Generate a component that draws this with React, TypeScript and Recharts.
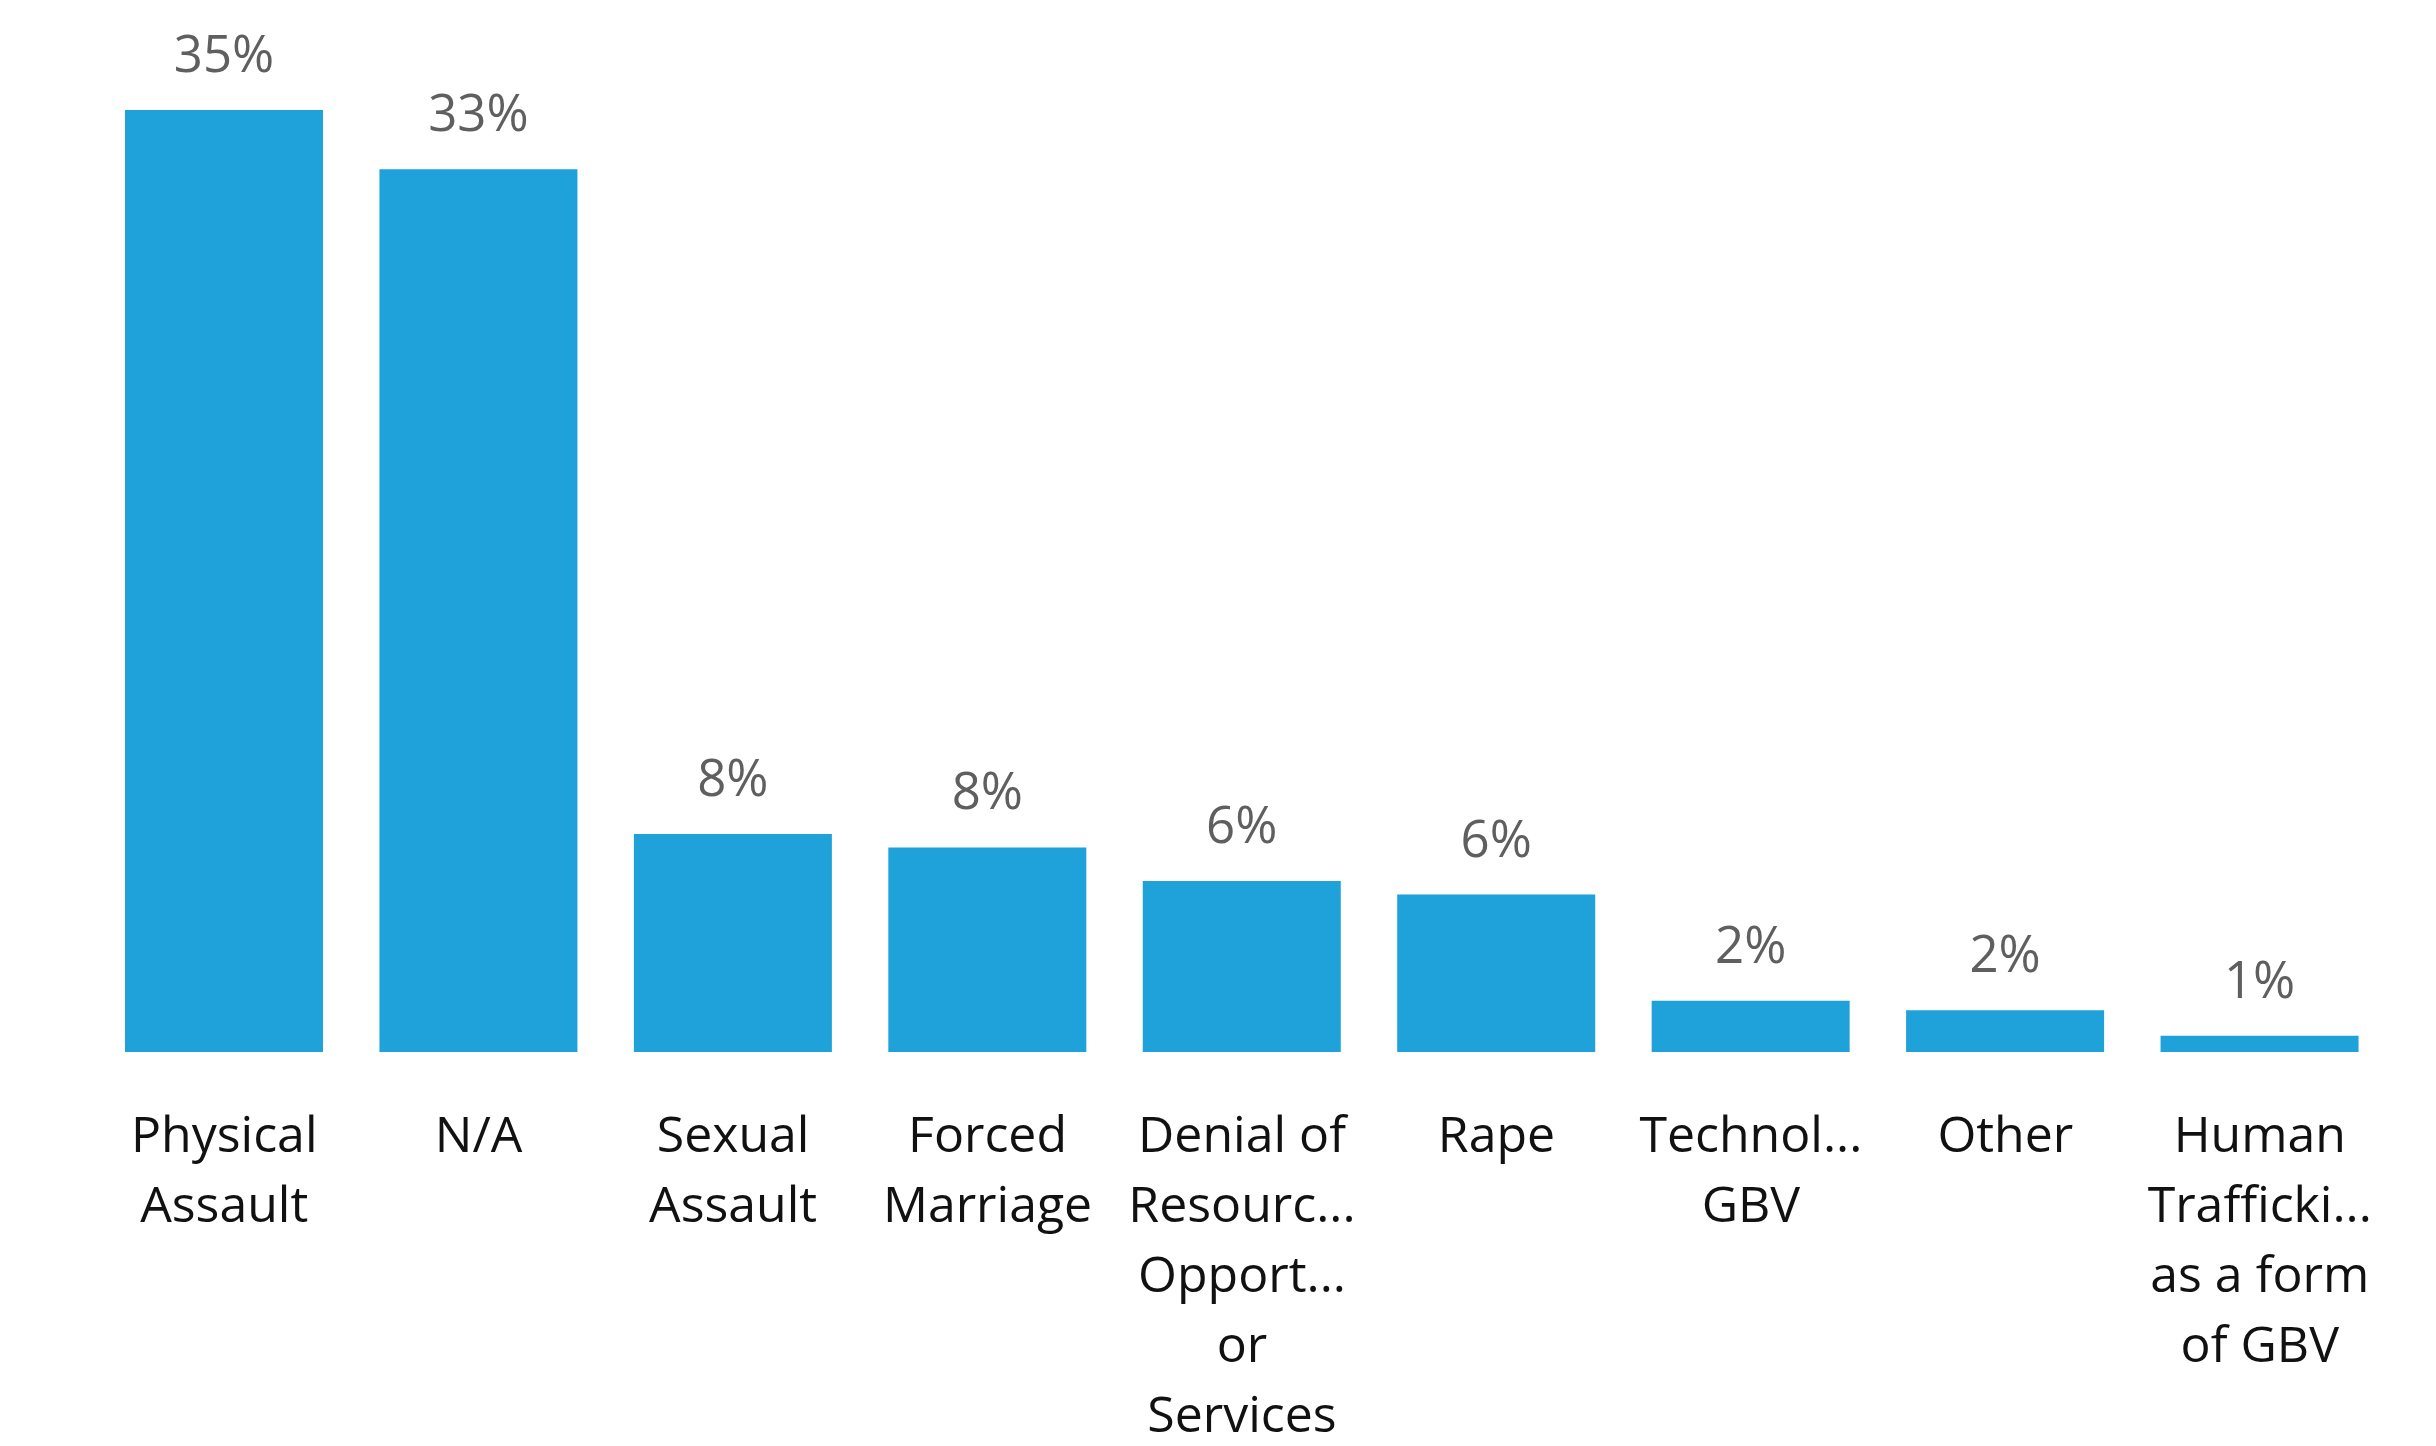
import React from 'react';
import { BarChart, Bar, XAxis, YAxis, LabelList } from 'recharts';

const categories = [
    'Physical Assault',
    'N/A',
    'Sexual Assault',
    'Forced Marriage',
    'Denial of Resources, Opportunities or Services',
    'Rape',
    'Technology-facilitated GBV',
    'Other',
    'Human Trafficking as a form of GBV',
];

// shares in percent
const shares = [35.0, 32.8, 8.1, 7.6, 6.35, 5.85, 1.9, 1.55, 0.6];

// tick labels as they are wrapped / cut in the picture
const tickLines = [
    ['Physical', 'Assault'],
    ['N/A'],
    ['Sexual', 'Assault'],
    ['Forced', 'Marriage'],
    ['Denial of', 'Resourc...', 'Opport...', 'or', 'Services'],
    ['Rape'],
    ['Technol...', 'GBV'],
    ['Other'],
    ['Human', 'Trafficki...', 'as a form', 'of GBV'],
];

const data = categories.map((name, i) => ({ name, value: shares[i], lines: tickLines[i] }));

const FONT = '"Segoe UI", "Open Sans", sans-serif';

const CategoryTick = (props: any) => {
    const { x, y, index } = props;
    const lines = tickLines[index] || [];
    return (
        <text x={x} y={y} textAnchor="middle" fill="#111" fontSize={50} fontFamily={FONT}>
            {lines.map((l, i) => (
                <tspan key={i} x={x} dy={i === 0 ? 100 : 70}>{l}</tspan>
            ))}
        </text>
    );
};

const App = () => {
    return (
        <div style={{ position: 'absolute', left: 0, top: 0, width: 2436, height: 1446, background: '#fff', fontFamily: FONT }}>
            <BarChart
                width={2436}
                height={1446}
                data={data}
                margin={{ top: 110, right: 49, left: 97, bottom: 0 }}
                barCategoryGap="11%"
            >
                <XAxis
                    dataKey="name"
                    height={394}
                    axisLine={false}
                    tickLine={false}
                    tickSize={0}
                    tickMargin={0}
                    interval={0}
                    tick={<CategoryTick />}
                />
                <YAxis hide domain={[0, 'dataMax']} />
                <Bar dataKey="value" fill="#1FA1DA" isAnimationActive={false}>
                    <LabelList
                        dataKey="value"
                        position="top"
                        offset={38}
                        formatter={(v: any) => `${Math.round(Number(v))}%`}
                        fill="#5f5f5f"
                        fontSize={51}
                        fontFamily={FONT}
                    />
                </Bar>
            </BarChart>
        </div>
    );
};

export default App;
